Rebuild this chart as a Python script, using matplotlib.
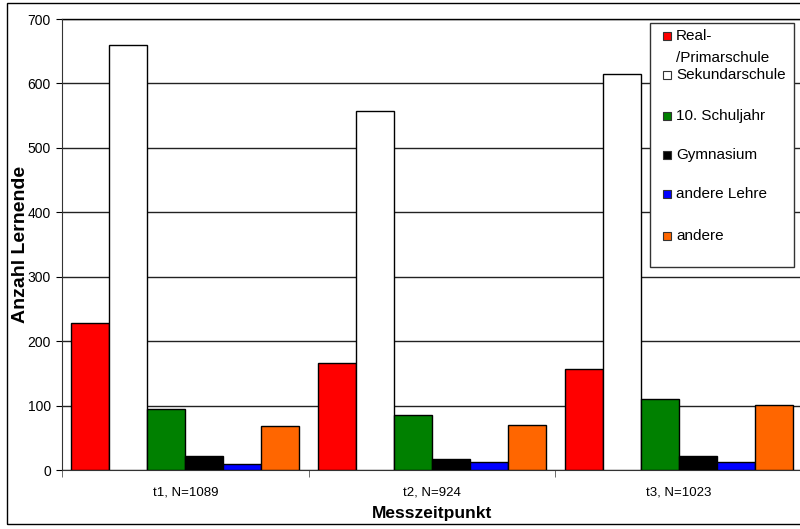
import matplotlib
matplotlib.use("Agg")
import matplotlib.pyplot as plt
import numpy as np
from matplotlib.patches import Rectangle

plt.rcParams['font.family'] = ['Liberation Sans', 'DejaVu Sans']

categories = ["t1, N=1089", "t2, N=924", "t3, N=1023"]
series_names = ["Real-/Primarschule", "Sekundarschule", "10. Schuljahr",
                "Gymnasium", "andere Lehre", "andere"]
series_colors = ["#ff0000", "#ffffff", "#008000", "#000000", "#0000ff", "#ff6600"]
values = {
    "Real-/Primarschule": [228, 166, 156],
    "Sekundarschule": [660, 557, 615],
    "10. Schuljahr": [94, 86, 110],
    "Gymnasium": [21, 17, 21],
    "andere Lehre": [9, 12, 12],
    "andere": [69, 70, 101],
}
y_ticks = [0, 100, 200, 300, 400, 500, 600, 700]

W, H = 800, 529
fig = plt.figure(figsize=(W / 100, H / 100), dpi=100)
ax = fig.add_axes([62 / W, 1 - 470 / H, 740 / W, 451 / H])


def fx(px):
    return px / W


def fy(py):
    return 1 - py / H


# outer chart frame
fig.patches.append(Rectangle((fx(7), fy(524)), 0.995, 521 / H,
                             transform=fig.transFigure, fill=False,
                             edgecolor="black", linewidth=1.0))

n = len(series_names)
bar_w = 1.0 / (n + 0.5)
x = np.arange(len(categories))
for i, name in enumerate(series_names):
    offs = (i - (n - 1) / 2) * bar_w
    ax.bar(x + offs, values[name], width=bar_w, color=series_colors[i],
           edgecolor="black", linewidth=1.0, label=name, zorder=3)

ax.set_xlim(-0.5, len(categories) - 0.5)
ax.set_ylim(0, 700)
ax.set_yticks(y_ticks)
ax.set_yticklabels([str(v) for v in y_ticks], fontsize=10)
ax.yaxis.grid(True, color="#222222", linewidth=1.0, zorder=0)
ax.set_axisbelow(True)

ax.set_xticks(x)
ax.set_xticklabels(categories, fontsize=9.5)
ax.tick_params(axis="x", length=0, pad=12)
ax.set_xticks(np.arange(len(categories) + 1) - 0.5, minor=True)
ax.tick_params(axis="x", which="minor", length=5, direction="out", color="#555555")
ax.tick_params(axis="y", length=4, direction="out", pad=4)

for side in ["top", "right"]:
    ax.spines[side].set_visible(False)
ax.spines["left"].set_color("#333333")
ax.spines["bottom"].set_color("#333333")
# top boundary line of the plot area
ax.axhline(700, color="black", linewidth=1.0, zorder=1, clip_on=False)

ax.set_xlabel("Messzeitpunkt", fontsize=12.5, fontweight="bold", labelpad=5)
ax.set_ylabel("Anzahl Lernende", fontsize=14, fontweight="bold")
ax.yaxis.set_label_coords(-0.045, 0.5)

# legend box with one slot per series
fig.patches.append(Rectangle((fx(650), fy(267)), fx(794) - fx(650), (267 - 23) / H,
                             transform=fig.transFigure, facecolor="white",
                             edgecolor="#333333", linewidth=1.0, zorder=5))
slot_y = [36, 75, 116, 155, 194, 236]
for name, color, yc in zip(series_names, series_colors, slot_y):
    fig.patches.append(Rectangle((fx(663), fy(yc + 4)), 8 / W, 8 / H,
                                 transform=fig.transFigure, facecolor=color,
                                 edgecolor="#333333", linewidth=0.8, zorder=6))
    if "-/" in name:
        head, tail = name.split("-/")
        fig.text(fx(676), fy(yc), head + "-", fontsize=11, va="center",
                 ha="left", zorder=7)
        fig.text(fx(676), fy(yc + 22), "/" + tail, fontsize=11, va="center",
                 ha="left", zorder=7)
    else:
        fig.text(fx(676), fy(yc), name, fontsize=11, va="center", ha="left",
                 zorder=7)

fig.savefig("out.png", dpi=100)
